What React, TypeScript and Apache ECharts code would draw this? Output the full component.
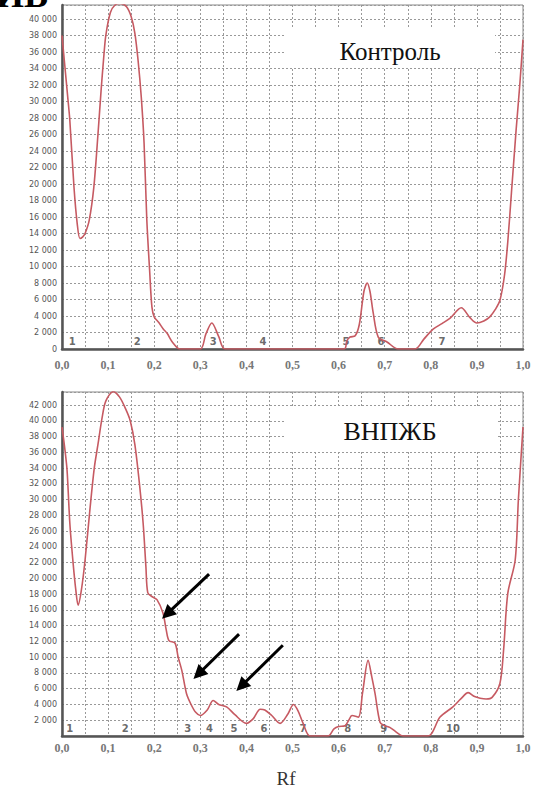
import React, { useEffect, useRef } from "react";
import * as echarts from "echarts";

// Control (Контроль) densitogram
const controlRf = [0, 0.005, 0.013, 0.017, 0.026, 0.033, 0.039, 0.045, 0.05, 0.059, 0.069, 0.078, 0.085, 0.09, 0.095, 0.105, 0.115, 0.126, 0.14, 0.15, 0.158, 0.165, 0.172, 0.178, 0.184, 0.19, 0.195, 0.2, 0.21, 0.22, 0.228, 0.24, 0.256, 0.3, 0.312, 0.325, 0.34, 0.354, 0.612, 0.618, 0.625, 0.636, 0.645, 0.655, 0.662, 0.668, 0.675, 0.686, 0.705, 0.729, 0.766, 0.785, 0.805, 0.825, 0.842, 0.866, 0.885, 0.9, 0.915, 0.928, 0.94, 0.95, 0.96, 0.967, 0.975, 0.985, 0.993, 1.0];
const controlValues = [38000, 35000, 30200, 27700, 19600, 15200, 13400, 13600, 14000, 15600, 19600, 26000, 31500, 35000, 38000, 40800, 41700, 41900, 41500, 40300, 38300, 35000, 30500, 25000, 15600, 9600, 5100, 3900, 3200, 2400, 1900, 800, 0, 0, 1800, 3150, 1500, 0, 0, 1000, 1450, 1600, 3000, 7000, 8000, 7000, 4400, 1450, 850, 0, 0, 1200, 2400, 3100, 3750, 5000, 3800, 3150, 3400, 3900, 4800, 5900, 9000, 13000, 19000, 26500, 32000, 37500];

// ВНПЖБ densitogram
const treatedRf = [0, 0.006, 0.011, 0.017, 0.024, 0.03, 0.035, 0.042, 0.05, 0.061, 0.07, 0.078, 0.087, 0.095, 0.111, 0.125, 0.138, 0.148, 0.158, 0.168, 0.176, 0.182, 0.186, 0.195, 0.206, 0.219, 0.226, 0.232, 0.245, 0.252, 0.26, 0.27, 0.28, 0.29, 0.3, 0.315, 0.328, 0.34, 0.357, 0.375, 0.4, 0.415, 0.43, 0.44, 0.455, 0.473, 0.49, 0.502, 0.512, 0.523, 0.538, 0.577, 0.59, 0.6, 0.614, 0.622, 0.629, 0.643, 0.652, 0.664, 0.672, 0.679, 0.69, 0.7, 0.711, 0.725, 0.74, 0.794, 0.82, 0.848, 0.865, 0.881, 0.895, 0.907, 0.92, 0.933, 0.95, 0.958, 0.967, 0.983, 0.99, 1.0];
const treatedValues = [39200, 36500, 33700, 27000, 22000, 18500, 16600, 18500, 22300, 29000, 34000, 37000, 40400, 42500, 43700, 43000, 41500, 40000, 37000, 32000, 27000, 21500, 18200, 17700, 17300, 15600, 13500, 12100, 11800, 10000, 8300, 5400, 4000, 3000, 2600, 3300, 4500, 4000, 3700, 2700, 1600, 2200, 3400, 3300, 2600, 1600, 2800, 4000, 3200, 1600, 0, 0, 900, 1200, 1300, 2000, 2600, 2400, 5500, 9600, 7500, 5400, 1700, 1300, 1100, 500, 0, 0, 2400, 3700, 4700, 5500, 5000, 4800, 4700, 4900, 6700, 11000, 18100, 22300, 30000, 39200];

// Zone numbers along the baseline
const controlZoneRf = [0.022, 0.163, 0.328, 0.436, 0.616, 0.692, 0.824];
const controlZoneNames = ["1", "2", "3", "4", "5", "6", "7"];
const treatedZoneRf = [0.017, 0.137, 0.273, 0.32, 0.373, 0.438, 0.523, 0.62, 0.698, 0.848];
const treatedZoneNames = ["1", "2", "3", "4", "5", "6", "7", "8", "9", "10"];
const controlZoneY = 850;
const treatedZoneY = 1000;

// Arrows (tail -> head), in data units of the lower chart
const arrowTails = [[0.319, 20540], [0.384, 12920], [0.479, 11520]];
const arrowHeads = [[0.228, 15490], [0.296, 7870], [0.389, 6340]];

const controlMax = 41700;
const treatedMax = 43650;
const yInterval = 2000;
const xInterval = 0.05;

const CURVE = "#c65a62";
const SERIF = "'Liberation Serif', 'DejaVu Serif', serif";

function fmtY(v: number) {
  if (v === 0) return "0";
  return Math.round(v / 1000) + " 000";
}
function fmtX(v: number) {
  const t = v * 10;
  if (Math.abs(t - Math.round(t)) > 1e-6) return "";
  return v.toFixed(1).replace(".", ",");
}

function xAxisCfg(gridIndex: number, margin: number) {
  return {
    type: "value",
    gridIndex,
    min: 0,
    max: 1,
    interval: xInterval,
    axisLine: { show: true, onZero: false, lineStyle: { color: "#555", width: 2.5 } },
    axisTick: { show: false },
    axisLabel: {
      formatter: fmtX,
      fontFamily: SERIF,
      fontWeight: "bold",
      fontSize: 12,
      color: "#777",
      margin,
      hideOverlap: false,
    },
    splitLine: { show: true, lineStyle: { color: "#999", type: [2, 2], width: 1 } },
  };
}

function yAxisCfg(gridIndex: number, max: number, showMin: boolean) {
  return {
    type: "value",
    gridIndex,
    min: 0,
    max,
    interval: yInterval,
    axisLine: { show: true, onZero: false, lineStyle: { color: "#555", width: 2.5 } },
    axisTick: { show: false },
    axisLabel: {
      formatter: fmtY,
      fontSize: 8,
      fontFamily: "'DejaVu Sans', sans-serif",
      color: "#555",
      margin: 5,
      showMaxLabel: false,
      showMinLabel: showMin,
    },
    splitLine: { show: true, lineStyle: { color: "#999", type: [2, 2], width: 1 } },
  };
}

export default function App() {
  const ref = useRef<HTMLDivElement>(null);
  useEffect(() => {
    if (!ref.current) return;
    const chart = echarts.init(ref.current, undefined, { renderer: "svg" });
    const controlData = controlRf.map((x, i) => [x, controlValues[i]]);
    const treatedData = treatedRf.map((x, i) => [x, treatedValues[i]]);
    const controlZones = controlZoneRf.map((x, i) => [x, controlZoneY, controlZoneNames[i]]);
    const treatedZones = treatedZoneRf.map((x, i) => [x, treatedZoneY, treatedZoneNames[i]]);
    const arrows = arrowTails.map((t, i) => [
      { coord: t, symbol: "none", symbolSize: 0 },
      { coord: arrowHeads[i], symbol: "triangle", symbolSize: 14 },
    ]);
    const zoneLabel = {
      show: true,
      position: "inside",
      formatter: (p: any) => p.data[2],
      fontSize: 10,
      fontWeight: "bold",
      fontFamily: "'DejaVu Sans', sans-serif",
      color: "#444",
    };
    chart.setOption({
      animation: false,
      backgroundColor: "#fff",
      grid: [
        { left: 62, top: 5, width: 461, height: 344, show: true, borderColor: "#888", borderWidth: 1 },
        { left: 62, top: 392, width: 461, height: 344, show: true, borderColor: "#888", borderWidth: 1 },
      ],
      xAxis: [xAxisCfg(0, 10), xAxisCfg(1, 6)],
      yAxis: [yAxisCfg(0, controlMax, true), yAxisCfg(1, treatedMax, false)],
      series: [
        {
          type: "line",
          xAxisIndex: 0,
          yAxisIndex: 0,
          data: controlData,
          smooth: 0.3,
          showSymbol: false,
          clip: true,
          lineStyle: { color: CURVE, width: 1.6 },
          silent: true,
        },
        {
          type: "line",
          xAxisIndex: 1,
          yAxisIndex: 1,
          data: treatedData,
          smooth: 0.3,
          showSymbol: false,
          clip: true,
          lineStyle: { color: CURVE, width: 1.6 },
          silent: true,
          markLine: {
            silent: true,
            symbol: ["none", "triangle"],
            symbolSize: 14,
            label: { show: false },
            lineStyle: { color: "#000", width: 3, type: "solid" },
            itemStyle: { color: "#000" },
            emphasis: { disabled: true },
            data: arrows,
          },
        },
        {
          type: "scatter",
          xAxisIndex: 0,
          yAxisIndex: 0,
          data: controlZones,
          symbolSize: 1,
          itemStyle: { color: "transparent" },
          label: zoneLabel,
          silent: true,
        },
        {
          type: "scatter",
          xAxisIndex: 1,
          yAxisIndex: 1,
          data: treatedZones,
          symbolSize: 1,
          itemStyle: { color: "transparent" },
          label: zoneLabel,
          silent: true,
        },
      ],
      graphic: [
        {
          type: "text",
          x: -4,
          y: -5,
          z: 100,
          style: {
            text: "ИВ",
            font: "bold 36px " + SERIF,
            fill: "#000",
            align: "left",
            verticalAlign: "middle",
          },
        },
        { type: "rect", z: 100, shape: { x: 285, y: 28, width: 210, height: 39 }, style: { fill: "#fff" } },
        {
          type: "text",
          x: 390,
          y: 51,
          z: 101,
          style: { text: "Контроль", font: "25px " + SERIF, fill: "#111", align: "center", verticalAlign: "middle" },
        },
        { type: "rect", z: 100, shape: { x: 285, y: 407, width: 212, height: 45 }, style: { fill: "#fff" } },
        {
          type: "text",
          x: 390,
          y: 431,
          z: 101,
          style: { text: "ВНПЖБ", font: "26px " + SERIF, fill: "#111", align: "center", verticalAlign: "middle" },
        },
        {
          type: "text",
          x: 286,
          y: 778,
          z: 100,
          style: { text: "Rf", font: "19px " + SERIF, fill: "#333", align: "center", verticalAlign: "middle" },
        },
      ],
    });
    return () => chart.dispose();
  }, []);
  return (
    <div
      ref={ref}
      style={{ position: "fixed", left: 0, top: 0, width: 542, height: 790, background: "#fff" }}
    />
  );
}
